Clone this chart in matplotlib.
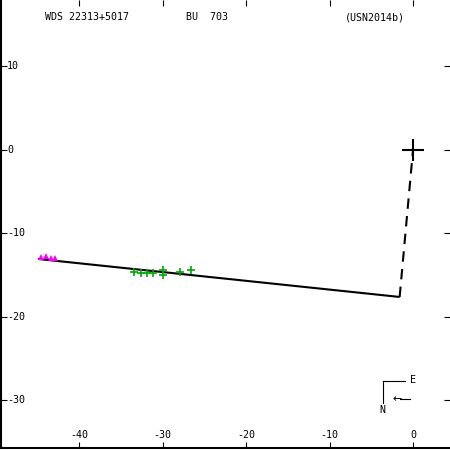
import matplotlib
matplotlib.use("Agg")
import matplotlib.pyplot as plt

# ---- data ----
title_left = "WDS 22313+5017"
title_mid = "BU  703"
title_right = "(USN2014b)"

orbit_x = [-44.9, -1.6]
orbit_y = [-13.05, -17.6]
node_x = [-1.6, 0.0]
node_y = [-17.6, 0.0]

mag_x = [-44.5, -44.0, -43.4, -42.9]
mag_y = [-12.8, -12.7, -12.95, -12.9]

grn_x = [-33.4, -32.6, -31.9, -31.1, -30.0, -29.9, -27.9, -26.6]
grn_y = [-14.57, -14.77, -14.77, -14.77, -14.37, -14.93, -14.65, -14.37]

xticks = [-40, -30, -20, -10, 0]
yticks = [10, 0, -10, -20, -30]

# ---- layout ----
W = H = 450
scale = 8.35     # px per unit
x0px, y0px = 413, 150
left_px, right_px = 1, 450
top_px, bot_px = 0, 448

fig = plt.figure(figsize=(4.5, 4.5), dpi=100)
ax = fig.add_axes([left_px / W, (H - bot_px) / H, (right_px - left_px) / W, (bot_px - top_px) / H])
ax.set_xlim((left_px - x0px) / scale, (right_px - x0px) / scale)
ax.set_ylim((y0px - bot_px) / scale, (y0px - top_px) / scale)

for s in ["top", "right"]:
    ax.spines[s].set_visible(False)
for s in ["left", "bottom"]:
    ax.spines[s].set_linewidth(1.5)

ax.set_xticks(xticks)
ax.set_yticks(yticks)
ax.tick_params(axis="both", direction="in", length=4.5, width=0.8, labelbottom=False, labelleft=False,
               top=True, right=True)

font = dict(family="DejaVu Sans Mono", fontsize=7.2, color="black")

for xt in xticks:
    ax.text(xt, (y0px - 435) / scale, f"{xt}", ha="center", va="center", **font)
for yt in yticks:
    ax.text((7 - x0px) / scale, yt, f"{yt}", ha="left", va="center", **font)

fig.text(45 / W, 1 - 17 / H, title_left, ha="left", va="center", **font)
fig.text(186 / W, 1 - 17 / H, title_mid, ha="left", va="center", **font)
fig.text(345 / W, 1 - 17 / H, title_right, ha="left", va="center", **font)

# orbit and node lines
ax.plot(orbit_x, orbit_y, color="black", lw=1.5, solid_capstyle="butt")
ax.plot(node_x, node_y, color="black", lw=1.5, dashes=(5, 3.5))
ax.plot([0], [0], marker="+", color="black", markersize=16, mew=1.5)

ax.plot(mag_x, mag_y, linestyle="none", marker="^", color="#ff00ff", markersize=4.5, mew=0)
ax.plot(grn_x, grn_y, linestyle="none", marker="+", color="#00aa00", markersize=6, mew=1.2)

# compass
fig.add_artist(plt.Line2D([383 / W, 405 / W], [1 - 381 / H, 1 - 381 / H], color="black", lw=0.8))
fig.add_artist(plt.Line2D([383 / W, 383 / W], [1 - 381 / H, 1 - 403 / H], color="black", lw=0.8))
fig.text(410 / W, 1 - 380 / H, "E", ha="left", va="center", **font)
fig.text(382 / W, 1 - 410 / H, "N", ha="center", va="center", **font)
fig.text(397 / W, 1 - 399 / H, "\u2190", ha="center", va="center", family="DejaVu Sans", fontsize=8)
fig.add_artist(plt.Line2D([400 / W, 410 / W], [1 - 399 / H, 1 - 399 / H], color="black", lw=0.8))

fig.savefig("out.png", dpi=100)
